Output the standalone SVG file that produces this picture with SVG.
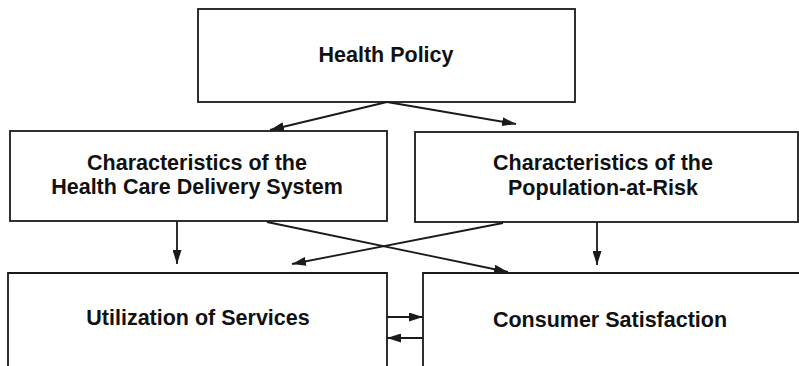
<svg xmlns="http://www.w3.org/2000/svg" width="799" height="366" viewBox="0 0 799 366">
<defs>
<marker id="ah" viewBox="0 0 14 9" refX="14" refY="4.5" markerWidth="14" markerHeight="9" markerUnits="userSpaceOnUse" orient="auto">
<path d="M0,0 L14,4.5 L0,9 Z" fill="#1a1a1a"/>
</marker>
</defs>
<style>
.box{fill:#fff;stroke:#1a1a1a;stroke-width:1.8}
.t{font-family:"Liberation Sans",Arial,sans-serif;font-weight:bold;font-size:21.5px;fill:#111;text-anchor:middle}
.c{stroke:#1a1a1a;stroke-width:1.8;fill:none;marker-end:url(#ah)}
</style>
<rect width="799" height="366" fill="#fff"/>
<g id="health-policy">
<rect class="box" x="198" y="9" width="377" height="93"/>
<text class="t" x="386" y="62">Health Policy</text>
</g>
<g id="delivery-system">
<rect class="box" x="10" y="131" width="377" height="90"/>
<text class="t" x="197" y="170">Characteristics of the</text>
<text class="t" x="197" y="194">Health Care Delivery System</text>
</g>
<g id="population">
<rect class="box" x="415" y="132" width="383" height="90"/>
<text class="t" x="603" y="170">Characteristics of the</text>
<text class="t" x="603" y="195">Population-at-Risk</text>
</g>
<g id="utilization">
<path class="box" d="M8,370 V273 H387 V370"/>
<text class="t" x="198" y="325">Utilization of Services</text>
</g>
<g id="satisfaction">
<path class="box" d="M423,370 V273 H802"/>
<text class="t" x="610" y="327">Consumer Satisfaction</text>
</g>
<g id="connectors">
<line class="c" x1="387" y1="102" x2="270" y2="130"/>
<line class="c" x1="387" y1="102" x2="516" y2="124"/>
<line class="c" x1="177" y1="221" x2="177" y2="264"/>
<line class="c" x1="597" y1="222" x2="597" y2="265"/>
<line class="c" x1="267" y1="222" x2="508" y2="272"/>
<line class="c" x1="503" y1="223" x2="292" y2="264"/>
<line class="c" x1="387" y1="317" x2="423" y2="317"/>
<line class="c" x1="423" y1="338" x2="387" y2="338"/>
</g>
</svg>
